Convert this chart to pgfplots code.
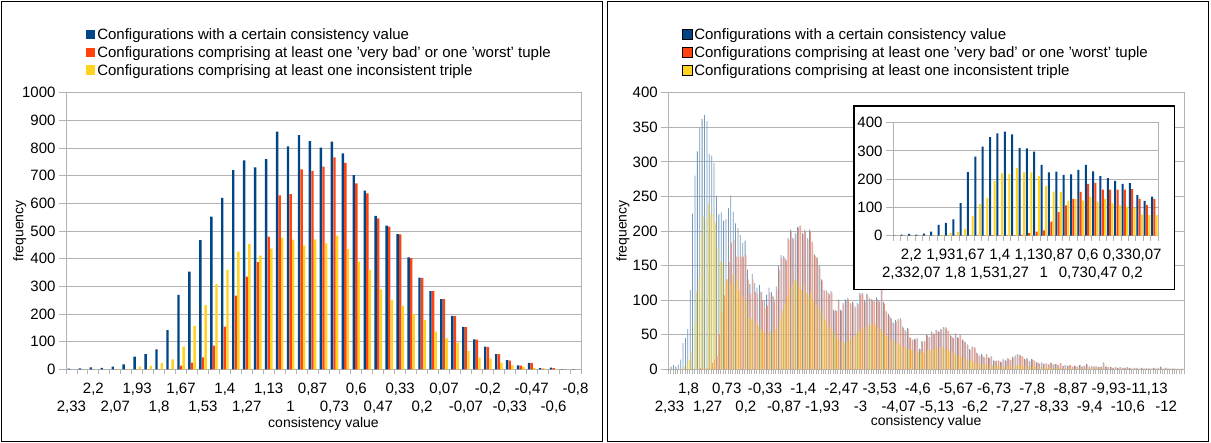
\documentclass[border=0pt]{standalone}
\usepackage{fontspec}
\setmainfont{Liberation Sans}
\usepackage{pgfplots}
\usepackage{pgfplotstable}
\pgfplotsset{compat=1.18}

\definecolor{serA}{HTML}{004586}
\definecolor{serB}{HTML}{FF420E}
\definecolor{serC}{HTML}{FFD320}
\definecolor{wallgray}{HTML}{B3B3B3}
\newcommand\chartfont{\fontsize{15}{17}\selectfont}
\newcommand\titlefont{\fontsize{14}{16}\selectfont}

% k = category index (consistency value decreasing from 2,33)
% B = all configurations, R = with a 'very bad'/'worst' tuple, Y = with an inconsistent triple
\pgfplotstableread{
k B R Y
0 2 0 0
1 3 0 0
2 7 0 0
3 5 0 0
4 10 0 0
5 18 0 1
6 46 0 10
7 55 0 13
8 72 0 22
9 142 0 36
10 269 13 82
11 353 24 157
12 467 43 232
13 552 86 308
14 620 154 359
15 720 266 425
16 755 335 453
17 730 387 411
18 760 480 436
19 859 629 476
20 806 633 469
21 847 723 447
22 825 717 470
23 801 733 455
24 823 766 483
25 781 746 434
26 702 672 389
27 646 636 359
28 555 546 289
29 519 516 251
30 489 488 229
31 405 402 200
32 331 330 178
33 283 283 136
34 254 254 112
35 193 192 96
36 153 152 67
37 108 107 42
38 82 81 39
39 55 55 24
40 33 31 14
41 14 13 10
42 23 22 5
43 4 2 2
44 6 4 1
45 1 1 0
46 1 0 0
}\smalltable

\pgfplotstableread{
k B R Y
0 1 0 0
1 4 0 0
2 6 0 0
3 4 0 0
4 7 0 0
5 14 0 1
6 38 0 3
7 45 0 9
8 58 0 13
9 115 0 24
10 225 0 69
11 280 0 112
12 315 0 134
13 349 2 194
14 362 1 221
15 368 1 219
16 359 2 240
17 311 3 224
18 309 9 224
19 298 14 212
20 251 19 176
21 224 50 156
22 227 83 154
23 215 107 123
24 217 130 130
25 233 155 124
26 251 183 137
27 228 187 121
28 211 163 130
29 204 163 114
30 194 163 107
31 183 163 103
32 186 165 98
33 144 130 75
34 123 109 73
35 138 130 73
36 125 112 68
37 118 108 62
38 122 112 58
39 112 100 55
40 100 88 52
41 108 92 50
42 118 110 55
43 112 106 53
44 105 98 58
45 120 115 62
46 150 144 75
47 165 161 85
48 164 162 95
49 160 157 105
50 190 188 118
51 202 200 125
52 190 188 130
53 197 195 128
54 206 205 120
55 208 207 115
56 197 195 122
57 202 200 110
58 190 188 105
59 202 200 112
60 185 183 100
61 166 164 95
62 162 161 90
63 150 147 85
64 130 128 78
65 115 113 72
66 114 112 65
67 110 108 60
68 113 111 55
69 86 84 50
70 86 84 45
71 101 99 42
72 86 84 40
73 96 94 38
74 101 99 40
75 103 101 42
76 96 94 45
77 98 96 48
78 91 89 52
79 96 94 55
80 110 108 58
81 110 108 60
82 100 97 62
83 109 107 63
84 103 101 65
85 102 100 66
86 100 98 64
87 104 102 60
88 100 98 58
89 132 130 55
90 97 95 52
91 85 83 48
92 80 78 45
93 75 73 42
94 68 66 40
95 71 69 38
96 73 72 36
97 74 72 34
98 62 60 32
99 57 55 30
100 60 58 29
101 46 45 28
102 43 42 27
103 44 43 27
104 45 44 26
105 30 29 22
106 41 40 24
107 41 40 26
108 50 49 28
109 47 46 28
110 55 53 30
111 52 51 30
112 57 55 31
113 55 54 32
114 58 57 32
115 61 60 30
116 61 59 28
117 56 55 27
118 49 48 25
119 46 45 22
120 52 51 20
121 46 45 19
122 50 49 18
123 43 42 16
124 40 39 15
125 36 35 14
126 29 28 12
127 33 32 11
128 32 31 10
129 24 23 9
130 20 19 8
131 22 21 8
132 18 17 7
133 22 21 7
134 17 16 6
135 19 18 6
136 13 12 5
137 12 12 5
138 13 12 5
139 11 10 4
140 15 14 4
141 13 12 4
142 16 15 5
143 14 13 5
144 18 17 6
145 20 19 6
146 22 21 6
147 21 20 6
148 19 18 5
149 15 14 5
150 16 15 5
151 12 11 4
152 15 14 4
153 13 12 4
154 10 10 3
155 9 8 3
156 10 9 3
157 8 8 2
158 9 8 2
159 7 7 2
160 10 9 2
161 7 7 2
162 8 8 2
163 6 6 2
164 9 9 2
165 5 5 1
166 6 6 1
167 5 5 1
168 6 6 1
169 4 4 1
170 5 5 1
171 4 4 1
172 6 6 1
173 4 4 1
174 5 5 1
175 8 7 1
176 4 4 1
177 5 5 1
178 4 4 1
179 5 4 1
180 3 3 1
181 4 4 1
182 10 9 1
183 4 4 0
184 3 3 0
185 3 3 0
186 2 2 0
187 3 3 0
188 2 2 0
189 3 3 0
190 2 2 0
191 2 2 0
192 3 2 0
193 2 2 0
194 1 1 0
195 2 2 0
196 2 1 0
197 1 1 0
198 2 2 0
199 1 1 0
200 2 1 0
201 1 1 0
202 1 1 0
203 2 2 0
204 1 1 0
205 2 1 0
206 4 3 0
207 1 1 0
208 2 2 0
209 1 1 0
210 1 1 0
211 1 1 0
212 1 0 0
213 1 1 0
214 0 0 0
215 1 1 0
}\largetable

\pgfplotsset{
  histo/.style={
    scale only axis,
    ymin=0,
    ybar,
    axis line style={wallgray, line width=0.9pt},
    ymajorgrids,
    major grid style={wallgray, line width=0.9pt},
    tick align=outside,
    tick pos=left,
    major tick length=7pt,
    minor tick length=5pt,
    every tick/.style={wallgray, line width=0.9pt},
    every major x tick/.style={draw=none},
    every extra x tick/.style={draw=none, xticklabel style={yshift=-18pt}},
    /pgf/number format/assume math mode=true,
    /pgf/number format/1000 sep={},
    tick label style={font=\chartfont, text=black},
    label style={font=\titlefont},
    xticklabel style={yshift=-3pt},
    legend cell align=left,
    legend image code/.code={\fill[##1] (0pt,-4.5pt) rectangle (9.5pt,5pt);},
    legend style={draw=none, fill=none, font=\chartfont, anchor=north west,
      row sep=1.5pt, inner sep=0pt},
  },
}

\begin{document}
\begin{tikzpicture}

% panel frames
\draw[black, line width=1.2pt] (1.5pt,1.5pt) rectangle (602.5pt,441.5pt);
\draw[black, line width=1.2pt] (607.5pt,1.5pt) rectangle (1208.5pt,441.5pt);

% ---------------- left chart ----------------
\begin{axis}[histo,
  at={(66pt,73.7pt)}, anchor=south west,
  width=515pt, height=276.6pt,
  xmin=-0.5, xmax=46.5, ymax=1000,
  ytick={0,100,...,1000},
  minor xtick={-0.5,0.5,...,46.5},
  xtick={2,6,...,46},
  xticklabels={{2,2},{1,93},{1,67},{1,4},{1,13},{0,87},{0,6},{0,33},{0,07},{-0,2},{-0,47},{-0,8}},
  extra x ticks={0,4,...,44},
  extra x tick labels={{2,33},{2,07},{1,8},{1,53},{1,27},{1},{0,73},{0,47},{0,2},{-0,07},{-0,33},{-0,6}},
  xlabel={consistency value},
  xlabel style={at={(axis description cs:0.5,0)}, anchor=center, yshift=-55pt},
  ylabel={frequency},
  ylabel style={at={(axis description cs:-0.09,0.5)}, anchor=center},
  legend style={at={(axis description cs:0.038,1.24)}},
]
\addplot[fill=serA, draw=none, bar width=2.4pt, bar shift=-2.6pt] table[x=k, y=B] {\smalltable};
\addlegendentry{Configurations with a certain consistency value}
\addplot[fill=serB, draw=none, bar width=2.4pt, bar shift=0pt] table[x=k, y=R] {\smalltable};
\addlegendentry{Configurations comprising at least one 'very bad' or one 'worst' tuple}
\addplot[fill=serC, draw=none, bar width=2.4pt, bar shift=2.6pt] table[x=k, y=Y] {\smalltable};
\addlegendentry{Configurations comprising at least one inconsistent triple}
\end{axis}

% ---------------- right chart ----------------
\begin{axis}[histo,
  at={(668.3pt,73.7pt)}, anchor=south west,
  width=515.7pt, height=276.6pt,
  xmin=-0.5, xmax=215.5, ymax=400,
  ytick={0,50,...,400},
  minor xtick={-0.5,0.5,...,215.5},
  xtick={8,24,...,200},
  xticklabels={{1,8},{0,73},{-0,33},{-1,4},{-2,47},{-3,53},{-4,6},{-5,67},{-6,73},{-7,8},{-8,87},{-9,93},{-11,13}},
  extra x ticks={0,16,...,208},
  extra x tick labels={{2,33},{1,27},{0,2},{-0,87},{-1,93},{-3},{-4,07},{-5,13},{-6,2},{-7,27},{-8,33},{-9,4},{-10,6},{-12}},
  xlabel={consistency value},
  xlabel style={at={(axis description cs:0.5,0)}, anchor=center, yshift=-53pt},
  ylabel={frequency},
  ylabel style={at={(axis description cs:-0.088,0.5)}, anchor=center},
  legend style={at={(axis description cs:0.027,1.24)}},
]
\addlegendimage{fill=serA}
\addlegendentry{Configurations with a certain consistency value}
\addlegendimage{fill=serB}
\addlegendentry{Configurations comprising at least one 'very bad' or one 'worst' tuple}
\addlegendimage{fill=serC}
\addlegendentry{Configurations comprising at least one inconsistent triple}
\addplot[forget plot, fill=serA!55!white, draw=none, bar width=0.8pt, bar shift=-0.78pt] table[x=k, y=B] {\largetable};
\addplot[forget plot, fill=serB!60!white, draw=none, bar width=0.8pt, bar shift=0pt] table[x=k, y=R] {\largetable};
\addplot[forget plot, fill=serC!80!white, draw=none, bar width=0.8pt, bar shift=0.78pt] table[x=k, y=Y] {\largetable};
\end{axis}

% inset: detail of the first 36 categories
\filldraw[fill=white, draw=black, line width=1.2pt] (854pt,153.6pt) rectangle (1174.4pt,337pt);
\begin{axis}[histo,
  at={(893pt,207.3pt)}, anchor=south west,
  width=265pt, height=113pt,
  xmin=-0.5, xmax=35.5, ymax=400,
  ytick={0,100,...,400},
  minor xtick={-0.5,0.5,...,35.5},
  xtick={2,6,...,34},
  xticklabels={{2,2},{1,93},{1,67},{1,4},{1,13},{0,87},{0,6},{0,33},{0,07}},
  extra x ticks={0,4,...,32},
  extra x tick labels={{2,33},{2,07},{1,8},{1,53},{1,27},{1},{0,73},{0,47},{0,2}},
]
\addplot[fill=serA, draw=none, bar width=2pt, bar shift=-2.3pt, restrict x to domain=0:35] table[x=k, y=B] {\largetable};
\addplot[fill=serB, draw=none, bar width=2pt, bar shift=0pt, restrict x to domain=0:35] table[x=k, y=R] {\largetable};
\addplot[fill=serC, draw=none, bar width=2pt, bar shift=2.3pt, restrict x to domain=0:35] table[x=k, y=Y] {\largetable};
\end{axis}

\pgfresetboundingbox
\useasboundingbox (0pt,0pt) rectangle (1211pt,443pt);
\end{tikzpicture}
\end{document}
